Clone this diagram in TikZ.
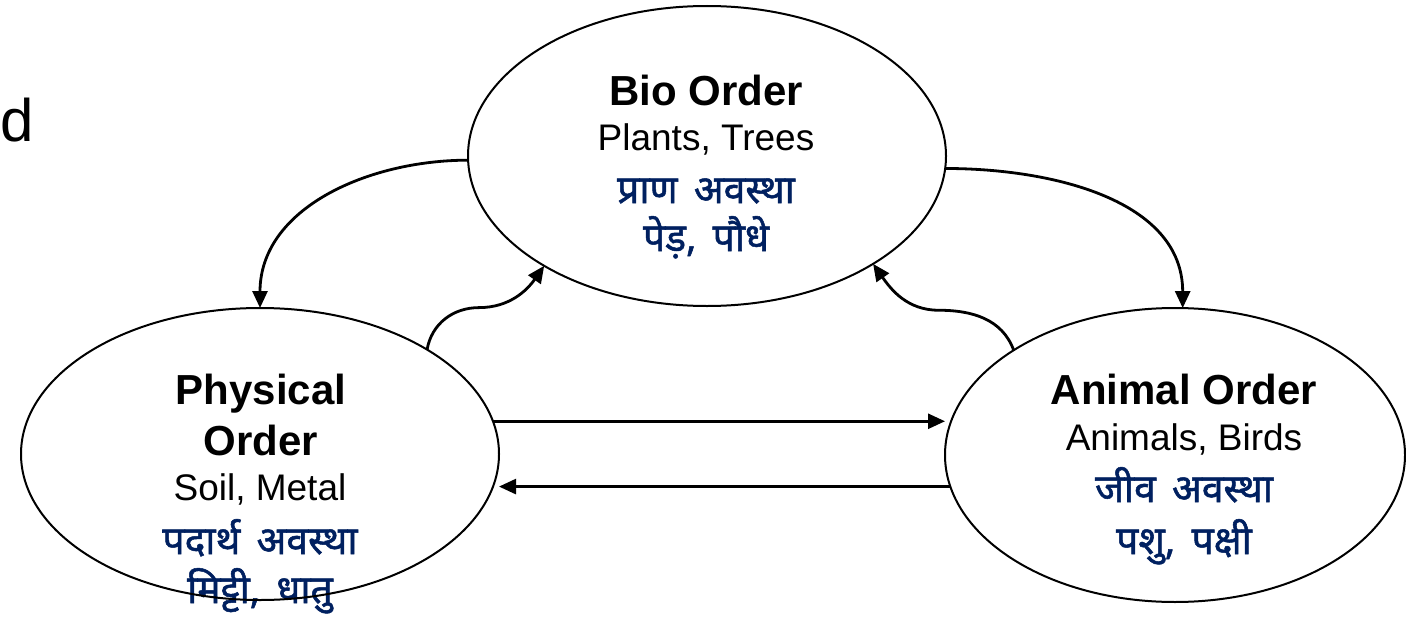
\documentclass[tikz,border=0pt]{standalone}
\usepackage{fontspec}
\setmainfont{Liberation Sans}
\newfontfamily\hindi[Script=Devanagari, FakeBold=1.3, WordSpace=1.6]{Noto Sans}
\usetikzlibrary{arrows.meta,shapes.geometric}
\definecolor{navy}{HTML}{002060}
\begin{document}
\begin{tikzpicture}[x=1pt,y=1pt,
  orb/.style={draw, ellipse, line width=2pt, inner sep=0pt, outer sep=0pt},
  txt/.style={anchor=base, inner sep=0pt},
  ttl/.style={txt, font=\fontsize{42}{46}\selectfont\bfseries},
  sub/.style={txt, font=\fontsize{37}{41}\selectfont},
  hin/.style={txt, text=navy, font=\fontsize{39}{43}\selectfont\hindi},
  arr/.style={line width=2.8pt, -{Triangle[length=17pt,width=15pt]}},
  arrs/.style={line width=2.6pt, -{Triangle[length=17pt,width=15pt]}}]
\useasboundingbox (0,0) rectangle (1406,-618);
\fill[white] (0,0) rectangle (1406,-618);
% stray letter
\node[txt, anchor=base west, font=\fontsize{60}{64}\selectfont] (d) at (0,-141) {d};
% texts
\node[ttl] (t1) at (706,-105) {Bio Order};
\node[sub] (s1) at (706,-150) {Plants, Trees};
\node[hin] (h1) at (706,-203) {प्राण अवस्था};
\node[hin] (g1) at (706,-251) {पेड़, पौधे};
\node[ttl] (t2) at (261,-404) {Physical};
\node[ttl] (t2b) at (261,-455) {Order};
\node[sub] (s2) at (260,-500) {Soil, Metal};
\node[hin] (h2) at (260,-554) {पदार्थ अवस्था};
\node[hin] (g2) at (260,-603) {मिट्टी, धातु};
\node[ttl] (t3) at (1184,-404) {Animal Order};
\node[sub] (s3) at (1184,-450) {Animals, Birds};
\node[hin] (h3) at (1184,-502) {जीव अवस्था};
\node[hin] (g3) at (1184,-554) {पशु, पक्षी};
% ellipses
\node[orb, minimum width=478pt, minimum height=300pt] (bio) at (707,-156) {};
\node[orb, minimum width=478pt, minimum height=292pt] (phys) at (260,-454) {};
\node[orb, minimum width=460pt, minimum height=294pt] (anim) at (1175,-455) {};
% connectors
\draw[arr] (bio.181) to[out=180,in=90] (phys.90);
\draw[arr] (bio.357) to[out=0,in=90] (anim.87);
\draw[arr] (phys.32) to[out=80,in=180] ++(52,42) to[out=0,in=235] (bio.214);
\draw[arr] (anim.147) to[out=110,in=0] ++(-75,40) to[out=180,in=305] (bio.327);
\draw[arrs] (phys.8) -- (phys.8 -| anim.west);
\draw[arrs] (anim.188) -- (anim.188 -| phys.east);
\end{tikzpicture}
\end{document}
